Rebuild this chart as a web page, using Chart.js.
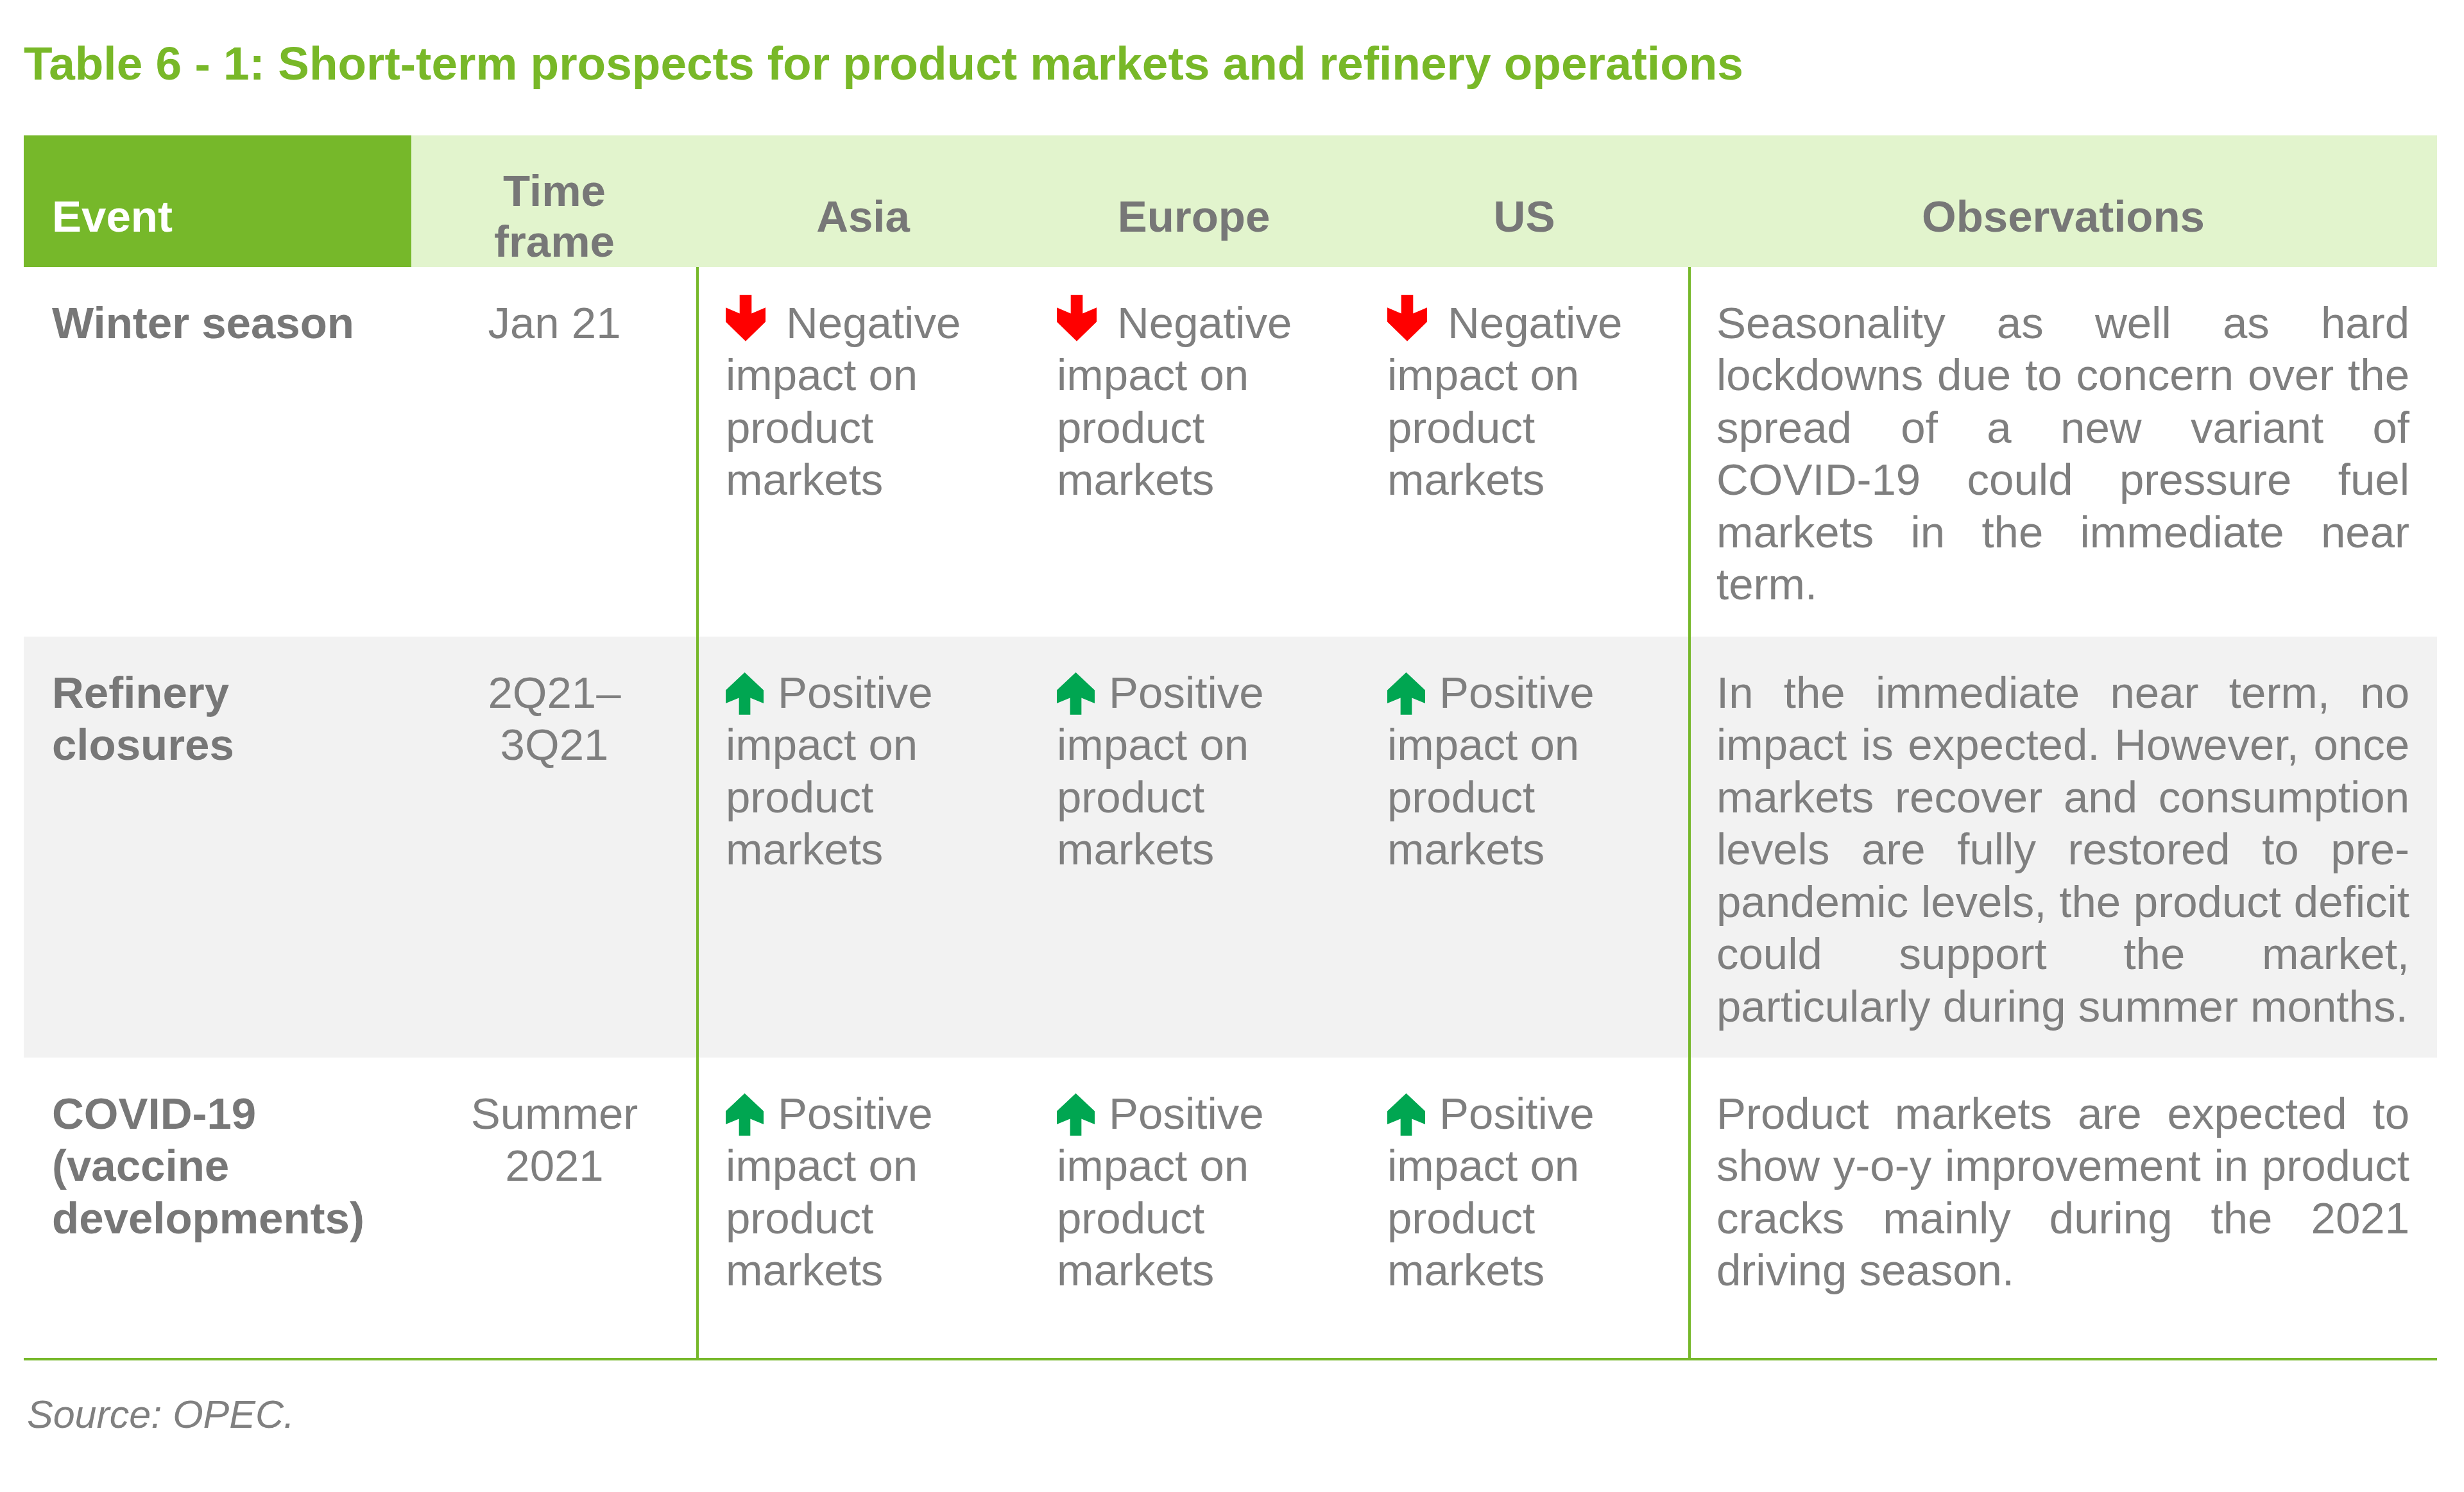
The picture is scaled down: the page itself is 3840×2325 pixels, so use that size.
<!DOCTYPE html>
<html lang="en">
<head>
<meta charset="utf-8">
<title>Table 6 - 1: Short-term prospects for product markets and refinery operations</title>
<script src="https://cdn.jsdelivr.net/npm/chart.js@4.4.1/dist/chart.umd.min.js"></script>
<style>
  html, body { margin: 0; padding: 0; background: #ffffff; }
  body {
    width: 3840px;
    height: 2325px;
    position: relative;
    overflow: hidden;
    font-family: 'Liberation Sans', Arial, sans-serif;
  }
  #chartWrap { position: absolute; left: 0; top: 0; width: 3840px; height: 2325px; }
  .title {
    position: absolute;
    left: 37px;
    top: 62px;
    margin: 0;
    font-size: 73px;
    line-height: 73px;
    font-weight: bold;
    color: #78b828;
    white-space: nowrap;
  }
  .source {
    position: absolute;
    left: 42px;
    top: 2174px;
    font-size: 61px;
    line-height: 61px;
    font-style: italic;
    color: #808080;
  }
</style>
</head>
<body>
<div id="chartWrap"><canvas id="tableChart"></canvas></div>
<h1 class="title">Table 6 - 1: Short-term prospects for product markets and refinery operations</h1>
<div class="source">Source: OPEC.</div>

<script>
// Table content
const headers = [['Event'], ['Time', 'frame'], ['Asia'], ['Europe'], ['US'], ['Observations']];
const events = [['Winter season'], ['Refinery', 'closures'], ['COVID-19', '(vaccine', 'developments)']];
const timeFrames = [['Jan 21'], ['2Q21–', '3Q21'], ['Summer', '2021']];
const regions = ['Asia', 'Europe', 'US'];
const impactAsia = ['Negative', 'Positive', 'Positive'];
const impactEurope = ['Negative', 'Positive', 'Positive'];
const impactUS = ['Negative', 'Positive', 'Positive'];
const impactText = ['impact on', 'product', 'markets'];
const observations = [
  ['Seasonality as well as hard', 'lockdowns due to concern over the', 'spread of a new variant of',
   'COVID-19 could pressure fuel', 'markets in the immediate near', 'term.'],
  ['In the immediate near term, no', 'impact is expected. However, once', 'markets recover and consumption',
   'levels are fully restored to pre-', 'pandemic levels, the product deficit', 'could support the market,',
   'particularly during summer months.'],
  ['Product markets are expected to', 'show y-o-y improvement in product', 'cracks mainly during the 2021',
   'driving season.']
];

// Layout: column widths in px, row heights in text lines
const colWidths = [604, 446, 516, 515, 515, 1165];
const rowHeights = [2.515, 7.067, 8.049, 5.767];

const GREEN = '#76b82a';
const LIGHT_GREEN = '#e2f4cd';
const GREY_BAND = '#f2f2f2';
const TEXT_GREY = '#7f7f7f';
const BOLD_GREY = '#777777';
const FONT = "'Liberation Sans', Arial, sans-serif";
const FONT_SIZE = 69;
const CELL_PAD = 44;        // left padding of the text in a cell
const OBS_PAD_RIGHT = 43;
const FIRST_BASELINE = 1.36; // in lines below the row top
const HEADER_BASELINE = 1.84;
const HEADER_LEAD = 0.97;

const arrowStyles = {
  Negative: { color: '#ff0000', up: false, w: 62, h: 72, rise: 67, textOffset: 94 },
  Positive: { color: '#00a651', up: true, w: 59, h: 66, rise: 55, textOffset: 81 }
};

const cumulative = arr => arr.reduce((acc, v) => { acc.push(acc[acc.length - 1] + v); return acc; }, [0]);
const colEdges = cumulative(colWidths);
const rowEdges = cumulative(rowHeights);
const tableRight = colEdges[colEdges.length - 1];
const tableBottom = rowEdges[rowEdges.length - 1];
const impacts = [impactAsia, impactEurope, impactUS];

// A filled rectangle: line along the top edge, filled down to the bottom edge
function band(x0, x1, yTop, yBottom, color, order) {
  return {
    data: [{ x: x0, y: yTop }, { x: x1, y: yTop }],
    fill: { value: yBottom },
    backgroundColor: color,
    borderColor: 'transparent',
    borderWidth: 1,
    pointRadius: 0,
    order
  };
}

function rule(points) {
  return {
    data: points,
    borderColor: GREEN,
    borderWidth: 4,
    pointRadius: 0,
    fill: false,
    clip: false,
    order: 0
  };
}

function drawArrow(ctx, left, baseline, style) {
  // dart shaped arrow, drawn pointing down and flipped for "up"
  const pts = [[-0.15, 0], [0.15, 0], [0.15, 0.40], [0.5, 0.27], [0.5, 0.58], [0, 1],
               [-0.5, 0.58], [-0.5, 0.27], [-0.15, 0.40]];
  const cx = left + style.w / 2;
  const top = baseline - style.rise;
  ctx.beginPath();
  pts.forEach(([u, v], i) => {
    const vv = style.up ? 1 - v : v;
    const px = cx + u * style.w;
    const py = top + vv * style.h;
    if (i === 0) ctx.moveTo(px, py); else ctx.lineTo(px, py);
  });
  ctx.closePath();
  ctx.fillStyle = style.color;
  ctx.fill();
}

function drawJustified(ctx, text, left, width, baseline, justify) {
  const words = text.split(' ');
  ctx.textAlign = 'left';
  if (!justify || words.length < 2) {
    ctx.fillText(text, left, baseline);
    return;
  }
  const widths = words.map(w => ctx.measureText(w).width);
  const gap = (width - widths.reduce((a, b) => a + b, 0)) / (words.length - 1);
  let xPos = left;
  words.forEach((w, i) => {
    ctx.fillText(w, xPos, baseline);
    xPos += widths[i] + gap;
  });
}

const tableText = {
  id: 'tableText',
  afterDatasetsDraw(chart) {
    const { ctx } = chart;
    const { x, y } = chart.scales;
    const px = v => x.getPixelForValue(v);
    const py = v => y.getPixelForValue(v);
    const regular = `${FONT_SIZE}px ${FONT}`;
    const bold = `bold ${FONT_SIZE}px ${FONT}`;

    ctx.save();
    ctx.textBaseline = 'alphabetic';

    // Header row
    ctx.font = bold;
    headers.forEach((lines, c) => {
      const first = c === 0;
      ctx.fillStyle = first ? '#ffffff' : BOLD_GREY;
      ctx.textAlign = first ? 'left' : 'center';
      const xPos = first ? px(colEdges[0] + CELL_PAD) : px((colEdges[c] + colEdges[c + 1]) / 2);
      lines.forEach((t, i) => {
        const base = HEADER_BASELINE + (i - (lines.length - 1) / 2) * HEADER_LEAD;
        ctx.fillText(t, xPos, py(base));
      });
    });

    // Body rows
    events.forEach((eventLines, r) => {
      const top = rowEdges[r + 1];
      const baseAt = i => py(top + FIRST_BASELINE + i);

      ctx.font = bold;
      ctx.fillStyle = BOLD_GREY;
      ctx.textAlign = 'left';
      eventLines.forEach((t, i) => ctx.fillText(t, px(colEdges[0] + CELL_PAD), baseAt(i)));

      ctx.font = regular;
      ctx.fillStyle = TEXT_GREY;
      ctx.textAlign = 'center';
      timeFrames[r].forEach((t, i) => ctx.fillText(t, px((colEdges[1] + colEdges[2]) / 2), baseAt(i)));

      regions.forEach((region, k) => {
        const colLeft = px(colEdges[2 + k] + CELL_PAD);
        const word = impacts[k][r];
        const style = arrowStyles[word];
        drawArrow(ctx, colLeft, baseAt(0), style);
        ctx.fillStyle = TEXT_GREY;
        ctx.textAlign = 'left';
        ctx.fillText(word, colLeft + style.textOffset, baseAt(0));
        impactText.forEach((t, i) => ctx.fillText(t, colLeft, baseAt(i + 1)));
      });

      const obsLeft = px(colEdges[5] + CELL_PAD - 2);
      const obsWidth = px(colEdges[6] - OBS_PAD_RIGHT) - obsLeft;
      const lines = observations[r];
      lines.forEach((t, i) => drawJustified(ctx, t, obsLeft, obsWidth, baseAt(i), i < lines.length - 1));
    });

    ctx.restore();
  }
};

const datasets = [
  band(0, tableRight, 0, rowEdges[1], LIGHT_GREEN, 3),
  band(colEdges[0], colEdges[1], 0, rowEdges[1], GREEN, 2),
  band(0, tableRight, rowEdges[2], rowEdges[3], GREY_BAND, 3),
  rule([{ x: colEdges[2], y: rowEdges[1] }, { x: colEdges[2], y: tableBottom }]),
  rule([{ x: colEdges[5], y: rowEdges[1] }, { x: colEdges[5], y: tableBottom }]),
  rule([{ x: 0, y: tableBottom }, { x: tableRight, y: tableBottom }])
];

new Chart(document.getElementById('tableChart'), {
  type: 'line',
  data: { datasets },
  options: {
    responsive: true,
    maintainAspectRatio: false,
    animation: false,
    events: [],
    layout: { padding: { left: 37, right: 42, top: 211, bottom: 207 } },
    plugins: {
      legend: { display: false },
      tooltip: { enabled: false }
    },
    scales: {
      x: { type: 'linear', display: false, min: 0, max: tableRight },
      y: { type: 'linear', display: false, reverse: true, min: 0, max: tableBottom }
    }
  },
  plugins: [tableText]
});
</script>
</body>
</html>
